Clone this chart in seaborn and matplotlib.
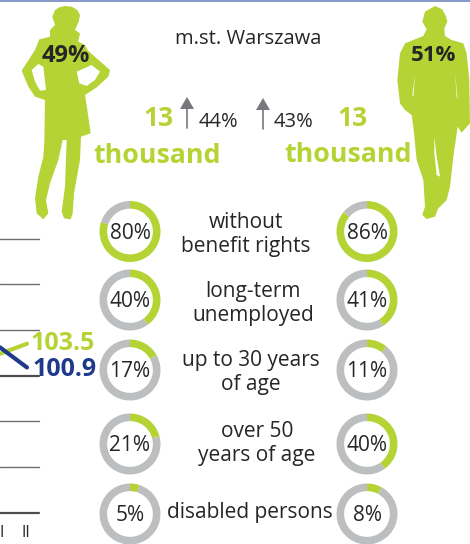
import matplotlib
matplotlib.use("Agg")
import matplotlib.pyplot as plt
import pandas as pd
import seaborn as sns
from matplotlib.patches import Polygon

# --- DATA ---
periods = ["I", "II"]
green_values = [102.4, 103.5]
blue_values = [103.1, 100.9]
grid_values = [85, 90, 95, 100, 105, 110, 115]

row_labels = ["without\nbenefit rights", "long-term\nunemployed", "up to 30 years\nof age",
              "over 50\nyears of age", "disabled persons"]
women_shares = [80, 40, 17, 21, 5]
men_shares = [86, 41, 11, 40, 8]

GREEN = "#B5D334"
BLUE = "#1F3A8C"
GREY = "#BCBEC0"
DARK = "#262626"
W, H = 470, 544

# silhouettes, traced in pixels
woman = [(195,18),(215,20),(232,30),(240,45),(236,65),(225,90),(240,100),(235,125),(255,135),(262,150),
         (290,175),(330,210),(325,230),(290,262),(255,285),(262,330),(272,400),(243,410),(240,480),
         (222,580),(218,640),(212,658),(192,655),(185,635),(195,560),(200,420),(188,420),(175,480),
         (150,550),(138,600),(145,640),(130,658),(110,640),(105,595),(115,530),(130,470),(133,425),
         (135,300),(105,290),(85,260),(65,212),(105,150),(118,118),(150,110),(150,90),(165,75),
         (157,50),(165,30),(178,22)]
woman_holes = [[(95,210),(115,192),(130,200),(138,270),(120,272),(105,245)],
               [(230,215),(275,195),(300,215),(285,240),(260,258),(238,250)]]
man = [(600,18),(622,28),(633,50),(637,65),(628,85),(630,108),(650,120),(685,130),(695,160),
       (703,240),(705,370),(680,398),(668,380),(655,470),(645,560),(635,600),(610,625),(600,650),
       (575,657),(562,645),(570,620),(565,540),(545,480),(535,380),(530,345),(510,330),(495,310),
       (487,240),(495,160),(510,130),(565,108),(575,88),(562,65),(570,35)]
man_holes = [[(598,410),(605,470),(615,530),(605,525),(598,460)],
             [(540,225),(535,290),(532,285)],
             [(660,215),(668,300),(665,290)]]

sns.set_theme(style="white")
plt.rcParams["font.family"] = ["Open Sans", "DejaVu Sans"]

fig = plt.figure(figsize=(W / 100, H / 100), dpi=100, facecolor="white")

# page layer in pixel coordinates
page = fig.add_axes([0, 0, 1, 1])
page.set_xlim(0, W)
page.set_ylim(H, 0)
page.axis("off")

page.plot([0, W], [0.5, 0.5], color="#6E88BC", lw=1.2)


def scaled(points, x0=0):
    return [(x0 + x / 3, y / 3) for x, y in points]


page.add_patch(Polygon(scaled(woman), color=GREEN, lw=0))
for hole in woman_holes:
    page.add_patch(Polygon(scaled(hole), color="white", lw=0))
page.add_patch(Polygon(scaled(man, 235), color=GREEN, lw=0))
for hole in man_holes:
    page.add_patch(Polygon(scaled(hole, 235), color="white", lw=0))

page.text(65.5, 56, "49%", color=DARK, fontsize=17, fontweight="bold", ha="center", va="center")
page.text(434, 55.5, "51%", color=DARK, fontsize=16, fontweight="bold", ha="center", va="center")
page.text(248, 39, "m.st. Warszawa", color=DARK, fontsize=14.5, ha="center", va="center")

page.text(158, 118, "13", color=GREEN, fontsize=19, fontweight="bold", ha="center", va="center")
page.text(352, 118, "13", color=GREEN, fontsize=19, fontweight="bold", ha="center", va="center")
page.text(157.5, 156, "thousand", color=GREEN, fontsize=19.3, fontweight="bold", ha="center", va="center")
page.text(348, 155, "thousand", color=GREEN, fontsize=19.3, fontweight="bold", ha="center", va="center")
page.text(218.5, 122, "44%", color=DARK, fontsize=14.5, ha="center", va="center")
page.text(293.5, 122, "43%", color=DARK, fontsize=14.5, ha="center", va="center")

for ax_x, top in [(187, 97), (263, 98)]:
    page.add_patch(Polygon([(ax_x, top), (ax_x + 7, top + 12), (ax_x - 7, top + 12)], color="#77787B", lw=0))
    page.plot([ax_x, ax_x], [top + 10, top + 31], color="#77787B", lw=1.2)

# index line chart, cut off by the left edge of the page
lines = pd.DataFrame({
    "pos": [0, 1, 0, 1],
    "value": green_values + blue_values,
    "series": ["green", "green", "blue", "blue"],
})
chart = fig.add_axes([0, 1 - 512.7 / H, 39 / W, (512.7 - 238.7) / H])
chart.patch.set_alpha(0)
for v in grid_values:
    chart.axhline(v, color="#4D4D4D" if v in (85, 100) else "#6D6E71", lw=1.6 if v in (85, 100) else 1.0,
                  clip_on=False, zorder=1)
sns.lineplot(data=lines, x="pos", y="value", hue="series", hue_order=["green", "blue"],
             palette={"green": GREEN, "blue": BLUE}, lw=3, legend=False, ax=chart,
             solid_capstyle="round", zorder=3)
chart.set_xlim(0, 39 / 27)
chart.set_ylim(85, 115)
chart.set_xticks([2 / 27, 25.5 / 27])
chart.set_xticklabels(periods, fontsize=11.5, color=DARK)
chart.set_yticks([])
chart.set_xlabel("")
chart.set_ylabel("")
chart.tick_params(axis="x", length=0, pad=9)
sns.despine(ax=chart, left=True, bottom=True)

page.text(31, 344, f"{green_values[-1]}", color=GREEN, fontsize=18, fontweight="bold", ha="left", va="center", zorder=5)
page.text(32, 369.5, f"{blue_values[-1]}", color=BLUE, fontsize=18, fontweight="bold", ha="left", va="center", zorder=5)


def donut(cx, cy, share):
    r = 30.5
    ax = fig.add_axes([(cx - r) / W, 1 - (cy + r) / H, 2 * r / W, 2 * r / H])
    ax.pie([share, 100 - share], colors=[GREEN, GREY], startangle=90, counterclock=False,
           radius=1, wedgeprops={"width": 0.25, "linewidth": 0})
    ax.set_xlim(-1, 1)
    ax.set_ylim(-1, 1)
    ax.patch.set_alpha(0)
    ax.text(0, -0.05, f"{share}%", color=DARK, fontsize=15, ha="center", va="center")


row_y = [231.5, 300, 370, 444, 514]
label_x = [246, 253, 251, 257, 250]
label_y = [234.5, 303.5, 372.5, 443.5, 512.5]
for y, lx, ly, label, w_share, m_share in zip(row_y, label_x, label_y, row_labels, women_shares, men_shares):
    donut(130, y, w_share)
    donut(367, y, m_share)
    page.text(lx, ly, label, color=DARK, fontsize=15, ha="center", va="center", linespacing=1.2)

fig.savefig("out.png", dpi=100)
